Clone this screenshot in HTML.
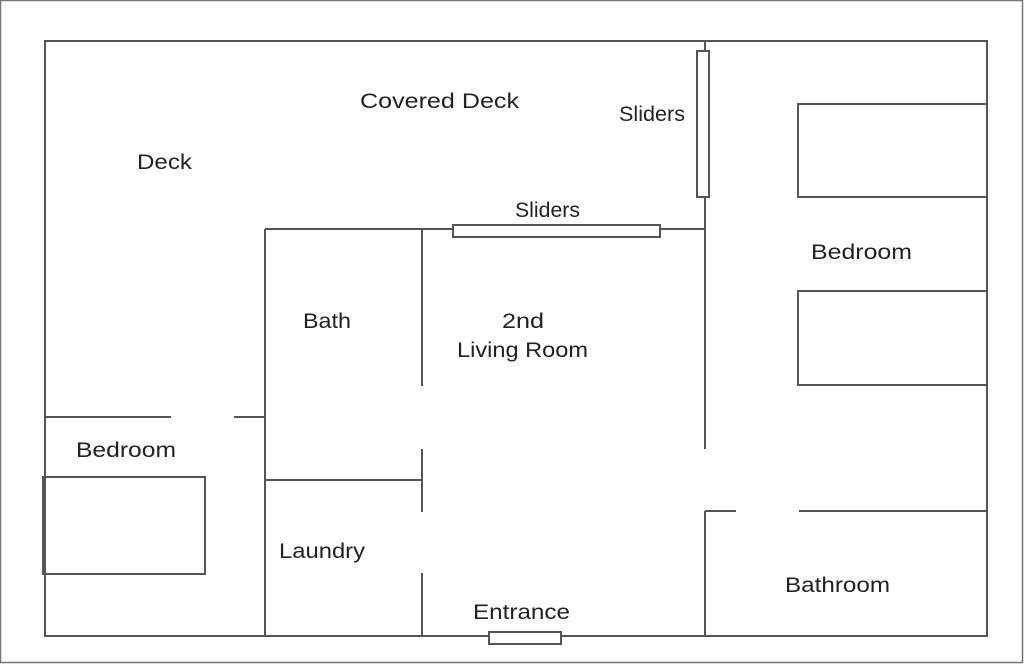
<!DOCTYPE html>
<html><head><meta charset="utf-8"><style>
html,body{margin:0;padding:0;background:#fff;}
svg{display:block;}
text{font-family:"Liberation Sans",sans-serif;font-size:21px;fill:#222;text-anchor:middle;}
</style></head><body>
<svg width="1024" height="664" viewBox="0 0 1024 664" xmlns="http://www.w3.org/2000/svg">
<rect x="0.5" y="0.5" width="1022" height="662" fill="#fff" stroke="#777" stroke-width="1.5"/>
<g stroke="#555" stroke-width="2" fill="none">
<rect x="45" y="41" width="942" height="595"/>
<line x1="705" y1="41" x2="705" y2="449"/>
<line x1="705" y1="511" x2="705" y2="636"/>
<line x1="265" y1="229" x2="705" y2="229"/>
<line x1="265" y1="229" x2="265" y2="636"/>
<line x1="422" y1="229" x2="422" y2="386"/>
<line x1="422" y1="449" x2="422" y2="512"/>
<line x1="422" y1="573" x2="422" y2="636"/>
<line x1="265" y1="480" x2="422" y2="480"/>
<line x1="45" y1="417" x2="171" y2="417"/>
<line x1="234" y1="417" x2="265" y2="417"/>
<line x1="705" y1="511" x2="736" y2="511"/>
<line x1="799" y1="511" x2="987" y2="511"/>
<rect x="43" y="477" width="162" height="97"/>
<rect x="798" y="104" width="189" height="93"/>
<rect x="798" y="291" width="189" height="94"/>
<rect x="697" y="51" width="12" height="146" fill="#fff"/>
<rect x="453" y="225" width="207" height="12" fill="#fff"/>
<rect x="489" y="632" width="72" height="12" fill="#fff"/>
</g>
<g style="" >
<text x="439.5" y="108" textLength="159" lengthAdjust="spacingAndGlyphs">Covered Deck</text>
<text x="652" y="121" textLength="66" lengthAdjust="spacingAndGlyphs">Sliders</text>
<text x="164.5" y="169" textLength="55" lengthAdjust="spacingAndGlyphs">Deck</text>
<text x="547.5" y="217" textLength="65" lengthAdjust="spacingAndGlyphs">Sliders</text>
<text x="861.5" y="259" textLength="101" lengthAdjust="spacingAndGlyphs">Bedroom</text>
<text x="327" y="328" textLength="48" lengthAdjust="spacingAndGlyphs">Bath</text>
<text x="523" y="328" textLength="42" lengthAdjust="spacingAndGlyphs">2nd</text>
<text x="522.5" y="357" textLength="131" lengthAdjust="spacingAndGlyphs">Living Room</text>
<text x="126" y="457" textLength="100" lengthAdjust="spacingAndGlyphs">Bedroom</text>
<text x="322" y="558" textLength="86" lengthAdjust="spacingAndGlyphs">Laundry</text>
<text x="837.5" y="592" textLength="105" lengthAdjust="spacingAndGlyphs">Bathroom</text>
<text x="521.5" y="619" textLength="97" lengthAdjust="spacingAndGlyphs">Entrance</text>
</g>
</svg>
</body></html>
